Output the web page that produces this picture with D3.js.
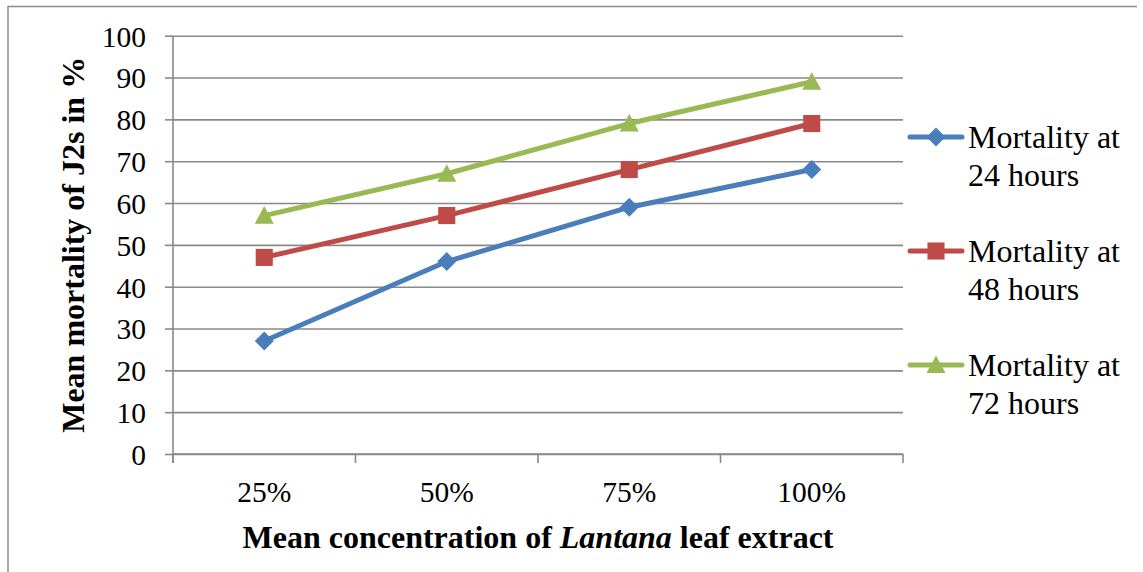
<!DOCTYPE html>
<html><head><meta charset="utf-8">
<script src="https://cdn.jsdelivr.net/npm/d3@7"></script>
<style>body{margin:0;background:#fff}svg{display:block}
svg text{font-family:"Liberation Serif","Tinos","Times New Roman","DejaVu Serif",serif;}
</style>
</head><body>
<svg id="c" width="1143" height="572"></svg>
<script>
const categories = ["25%", "50%", "75%", "100%"];
const yTicks = [0,10,20,30,40,50,60,70,80,90,100];
const seriesNames = ["Mortality at 24 hours", "Mortality at 48 hours", "Mortality at 72 hours"];
const legendLine1 = ["Mortality at", "Mortality at", "Mortality at"];
const legendLine2 = ["24 hours", "48 hours", "72 hours"];
const mort24 = [27, 46, 59, 68];
const mort48 = [47, 57, 68, 79];
const mort72 = [57, 67, 79, 89];
const seriesValues = [mort24, mort48, mort72];
const colors = ["#4A7EBB", "#BE4B48", "#98B954"];
const markers = ["diamond", "square", "triangle"];

const svg = d3.select("#c");
const font = '"Liberation Serif","Tinos","Times New Roman","DejaVu Serif",serif';
const grid = "#898989";
svg.append("rect").attr("width",1143).attr("height",572).attr("fill","#fff");
svg.append("line").attr("x1",8).attr("x2",1137).attr("y1",6.5).attr("y2",6.5).attr("stroke","#8c8c8c").attr("stroke-width",1.5);
svg.append("line").attr("x1",8).attr("x2",8).attr("y1",6).attr("y2",572).attr("stroke","#8c8c8c").attr("stroke-width",1.5);

const L=173, R=903, T=35.7, B=454;
const x = d3.scaleBand().domain(categories).range([L,R]).padding(0);
const y = d3.scaleLinear().domain([0,100]).range([B,T]);

const gy = svg.append("g").attr("transform",`translate(${L},0)`)
  .call(d3.axisLeft(y).tickValues(yTicks).tickSize(8).tickPadding(19));
gy.attr("font-family",null);
gy.select(".domain").remove();
gy.selectAll(".tick line").attr("stroke",grid).attr("stroke-width",1.6);
gy.selectAll(".tick").append("line").attr("x1",0).attr("x2",R-L).attr("stroke",grid).attr("stroke-width",1.6);
gy.selectAll(".tick text").style("font-family",font).attr("font-size",29.5).attr("fill","#000").attr("dy","0.35em");
svg.append("line").attr("x1",L).attr("x2",L).attr("y1",T).attr("y2",B+9).attr("stroke",grid).attr("stroke-width",1.6);

const gx = svg.append("g").attr("transform",`translate(0,${B})`)
  .call(d3.axisBottom(x).tickSize(0).tickPadding(48));
gx.attr("font-family",null);
gx.select(".domain").remove();
gx.selectAll(".tick text").style("font-family",font).attr("font-size",29.5).attr("fill","#000").attr("dy","0");
svg.append("line").attr("x1",L).attr("x2",R).attr("y1",B).attr("y2",B).attr("stroke",grid).attr("stroke-width",1.6);
const bounds = categories.map(c=>x(c)).concat([x(categories[categories.length-1])+x.bandwidth()]);
svg.selectAll(".xb").data(bounds).enter().append("line")
  .attr("x1",d=>d).attr("x2",d=>d).attr("y1",B).attr("y2",B+9).attr("stroke",grid).attr("stroke-width",1.6);

const xt = svg.append("text").attr("x",(L+R)/2).attr("y",548).attr("text-anchor","middle")
  .style("font-family",font).attr("font-size",32).attr("font-weight","bold");
xt.append("tspan").text("Mean concentration of ");
xt.append("tspan").attr("font-style","italic").text("Lantana");
xt.append("tspan").text(" leaf extract");
svg.append("text").attr("transform",`translate(84,${(T+B)/2}) rotate(-90)`).attr("text-anchor","middle")
  .style("font-family",font).attr("font-size",32).attr("font-weight","bold").text("Mean mortality of J2s in %");

function markerPath(type, s){
  const h=s/2;
  if(type==="diamond") return `M0,${-h}L${h},0L0,${h}L${-h},0Z`;
  if(type==="square") return `M${-h*0.9},${-h*0.9}H${h*0.9}V${h*0.9}H${-h*0.9}Z`;
  return `M0,${-h}L${h},${h*0.85}L${-h},${h*0.85}Z`;
}

const line = d3.line().x((d,i)=>x(categories[i])+x.bandwidth()/2).y(d=>y(d));
seriesValues.forEach((vals,si)=>{
  svg.append("path").datum(vals).attr("d",line).attr("fill","none")
    .attr("stroke",colors[si]).attr("stroke-width",5).attr("stroke-linejoin","round").attr("stroke-linecap","round");
  svg.selectAll(".m"+si).data(vals).enter().append("path")
    .attr("transform",(d,i)=>`translate(${x(categories[i])+x.bandwidth()/2},${y(d)})`)
    .attr("d",markerPath(markers[si],19)).attr("fill",colors[si]);
});

seriesNames.forEach((n,si)=>{
  const cy = 137 + si*114;
  const g = svg.append("g");
  g.append("line").attr("x1",910).attr("x2",962).attr("y1",cy).attr("y2",cy)
    .attr("stroke",colors[si]).attr("stroke-width",5).attr("stroke-linecap","round");
  g.append("path").attr("transform",`translate(936,${cy})`).attr("d",markerPath(markers[si],19)).attr("fill",colors[si]);
  g.append("text").attr("x",968).attr("y",cy+11).style("font-family",font).attr("font-size",32).text(legendLine1[si]);
  g.append("text").attr("x",968).attr("y",cy+49).style("font-family",font).attr("font-size",32).text(legendLine2[si]);
});
</script>
</body></html>
